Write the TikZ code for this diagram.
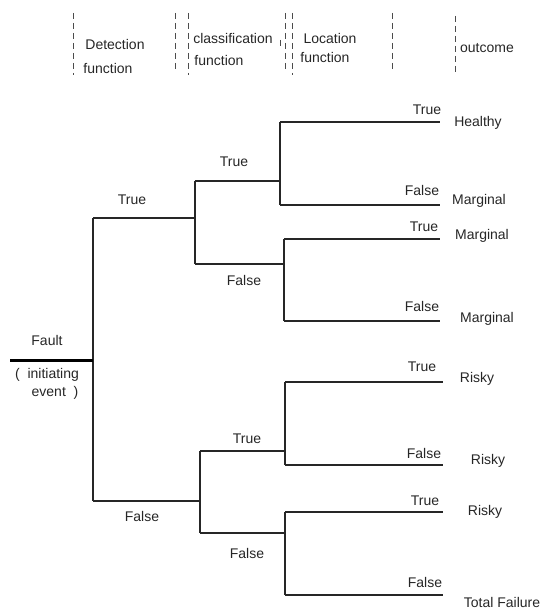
\documentclass[tikz,border=0pt]{standalone}
\usepackage{fontspec}
\setmainfont{Liberation Sans}
\begin{document}
\begin{tikzpicture}[x=1pt,y=-1pt,
  every node/.style={font=\fontsize{14}{16}\selectfont, text=black!85, inner sep=1pt},
  br/.style={draw=black!85, line width=1.1pt},
  root/.style={draw=black, line width=3pt},
  sep/.style={draw=black!70, line width=1pt, dash pattern=on 6pt off 4pt}]
\useasboundingbox (0,0) rectangle (553,612);
% header separators
\coordinate (s1a) at (73,13);  \coordinate (s1b) at (73,75);
\coordinate (s2a) at (175,13); \coordinate (s2b) at (175,72);
\coordinate (s3a) at (188,13); \coordinate (s3b) at (188,75);
\coordinate (s4a) at (280,40); \coordinate (s4b) at (280,48);
\coordinate (s5a) at (285,13); \coordinate (s5b) at (285,72);
\coordinate (s6a) at (292,13); \coordinate (s6b) at (292,75);
\coordinate (s7a) at (392,13); \coordinate (s7b) at (392,72);
\coordinate (s8a) at (455,16); \coordinate (s8b) at (455,75);
\foreach \i in {1,...,8} {\draw[sep] (s\i a) -- (s\i b);}
% header texts
\node (h1) at (115,44) {Detection};
\node (h1b) at (108,68) {function};
\node (h2) at (233,38) {classification};
\node (h2b) at (219,60) {function};
\node (h3) at (330,38) {Location};
\node (h3b) at (325,57) {function};
\node (h4) at (487,48) {outcome};
% tree points
\coordinate (r0) at (10,360);
\coordinate (r1) at (93,360);
\coordinate (d1) at (93,218);
\coordinate (d2) at (93,501);
% upper classification
\coordinate (c1) at (195,218);
\coordinate (c1t) at (195,181);
\coordinate (c1f) at (195,264);
\coordinate (l1) at (280,181);
\coordinate (l1t) at (280,122);
\coordinate (l1f) at (280,205);
\coordinate (e1) at (440,122);
\coordinate (e2) at (440,205);
\coordinate (l2) at (284,264);
\coordinate (l2t) at (284,239);
\coordinate (l2f) at (284,321);
\coordinate (e3) at (440,239);
\coordinate (e4) at (440,321);
% lower classification
\coordinate (c2) at (200,501);
\coordinate (c2t) at (200,451);
\coordinate (c2f) at (200,533);
\coordinate (l3) at (285,451);
\coordinate (l3t) at (285,382);
\coordinate (l3f) at (285,465);
\coordinate (e5) at (443,382);
\coordinate (e6) at (443,465);
\coordinate (l4) at (285,533);
\coordinate (l4t) at (285,512);
\coordinate (l4f) at (285,595);
\coordinate (e7) at (443,512);
\coordinate (e8) at (443,595);
% branches
\draw[br] (d1) -- (d2);
\draw[br] (d1) -- (c1);
\draw[br] (d2) -- (c2);
\draw[br] (c1t) -- (c1f);
\draw[br] (c1t) -- (l1);
\draw[br] (c1f) -- (l2);
\draw[br] (l1t) -- (l1f);
\draw[br] (l1t) -- (e1);
\draw[br] (l1f) -- (e2);
\draw[br] (l2t) -- (l2f);
\draw[br] (l2t) -- (e3);
\draw[br] (l2f) -- (e4);
\draw[br] (c2t) -- (c2f);
\draw[br] (c2t) -- (l3);
\draw[br] (c2f) -- (l4);
\draw[br] (l3t) -- (l3f);
\draw[br] (l3t) -- (e5);
\draw[br] (l3f) -- (e6);
\draw[br] (l4t) -- (l4f);
\draw[br] (l4t) -- (e7);
\draw[br] (l4f) -- (e8);
\draw[root] (r0) -- (r1);
% root labels
\node (fault) at (47,340) {Fault};
\node (init) at (47,375) {(\ \ initiating};
\node (ev) at (55,393) {event\ \ )};
% branch labels
\node (dt) at (132,200) {True};
\node (df) at (142,516) {False};
\node (ct1) at (234,162) {True};
\node (cf1) at (244,280) {False};
\node (ct2) at (247,439) {True};
\node (cf2) at (247,553) {False};
\node (lt1) at (427,110) {True};
\node (lf1) at (422,190) {False};
\node (lt2) at (424,227) {True};
\node (lf2) at (422,306) {False};
\node (lt3) at (422,367) {True};
\node (lf3) at (424,453) {False};
\node (lt4) at (425,501) {True};
\node (lf4) at (425,582) {False};
% outcomes
\node (o1) at (478,123) {Healthy};
\node (o2) at (479,201) {Marginal};
\node (o3) at (482,236) {Marginal};
\node (o4) at (487,319) {Marginal};
\node (o5) at (477,379) {Risky};
\node (o6) at (488,461) {Risky};
\node (o7) at (485,512) {Risky};
\node (o8) at (502,602) {Total Failure};
\end{tikzpicture}
\end{document}
